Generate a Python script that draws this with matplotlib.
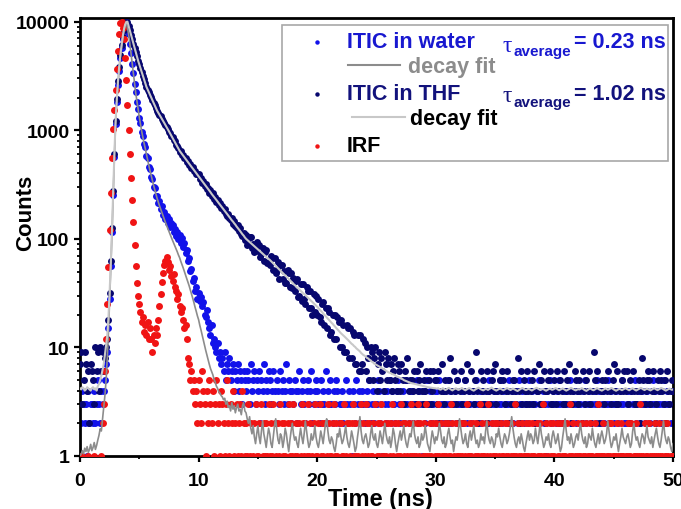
import numpy as np
import matplotlib
matplotlib.use('Agg')
import matplotlib.pyplot as plt
from matplotlib.patches import Rectangle
from matplotlib.lines import Line2D
from matplotlib.ticker import FixedLocator, MultipleLocator, LogLocator, NullFormatter

plt.rcParams['font.family'] = ['Liberation Sans', 'DejaVu Sans']

# --- data: photon counts per 0.1 ns channel, 0 .. 50 ns ---
time_ns = np.round(np.arange(501) * 0.1, 1)

water_counts = [
    3, 2, 4, 3, 2, 3, 1, 4, 2, 3, 3, 2, 4, 2, 3, 5, 3, 2, 4, 3,
    4, 5, 7, 9, 15, 28, 56, 115, 255, 570, 1140, 1820, 2610, 3540, 4620, 5730, 6980, 8260, 9350, 9480,
    8740, 7660, 6240, 5180, 4060, 3350, 2670, 2240, 1810, 1580, 1295, 1160, 955, 880, 742, 702, 585, 551, 462, 440,
    372, 358, 301, 296, 249, 246, 214, 221, 187, 199, 166, 178, 151, 163, 139, 152, 129, 140, 133, 116,
    124, 107, 116, 99, 108, 92, 101, 84, 91, 74, 79, 63, 66, 51, 53, 41, 44, 33, 36, 28,
    32, 27, 29, 24, 26, 20, 19, 22, 17, 15, 13, 16, 11, 12, 10, 9, 11, 8, 9, 7,
    8, 6, 9, 5, 7, 6, 8, 5, 6, 7, 4, 6, 5, 7, 4, 6, 5, 3, 6, 5,
    4, 6, 5, 3, 7, 4, 5, 6, 3, 5, 4, 6, 2, 5, 4, 7, 3, 5, 4, 6,
    5, 3, 4, 6, 4, 2, 5, 4, 3, 6, 4, 5, 3, 4, 7, 3, 5, 4, 2, 4,
    3, 5, 4, 2, 4, 6, 3, 4, 5, 3, 2, 4, 5, 3, 4, 6, 2, 3, 4, 5,
    4, 3, 2, 5, 3, 4, 3, 6, 2, 4, 3, 5, 3, 2, 4, 3, 5, 4, 2, 3,
    3, 4, 2, 3, 5, 3, 2, 4, 3, 1, 4, 3, 2, 5, 3, 4, 2, 3, 4, 3,
    2, 3, 4, 3, 5, 2, 3, 4, 2, 3, 3, 5, 4, 2, 3, 1, 4, 3, 2, 4,
    3, 5, 2, 4, 3, 3, 2, 4, 5, 3, 2, 3, 4, 2, 3, 5, 3, 2, 4, 3,
    4, 2, 3, 3, 5, 2, 4, 3, 1, 3, 4, 2, 3, 5, 3, 4, 2, 3, 3, 4,
    2, 4, 3, 5, 3, 2, 3, 4, 2, 3, 5, 3, 4, 2, 3, 3, 4, 2, 5, 3,
    3, 3, 4, 2, 3, 5, 2, 3, 4, 3, 2, 4, 3, 3, 5, 2, 3, 4, 2, 3,
    4, 3, 2, 3, 4, 5, 3, 2, 3, 4, 3, 2, 4, 3, 5, 3, 2, 4, 3, 3,
    2, 3, 5, 3, 4, 2, 3, 3, 4, 2, 5, 3, 3, 4, 2, 3, 4, 3, 2, 5,
    3, 4, 3, 2, 3, 4, 2, 5, 3, 3, 4, 2, 3, 1, 4, 3, 5, 2, 3, 4,
    3, 2, 4, 3, 5, 3, 2, 3, 4, 2, 3, 4, 3, 5, 2, 3, 4, 3, 2, 3,
    4, 3, 3, 2, 4, 3, 5, 2, 3, 4, 3, 2, 3, 4, 3, 2, 5, 3, 4, 2,
    3, 4, 2, 3, 3, 5, 3, 2, 4, 3, 2, 3, 4, 3, 2, 4, 3, 5, 3, 2,
    2, 3, 4, 3, 2, 4, 3, 3, 5, 2, 3, 4, 2, 3, 4, 3, 2, 3, 4, 3,
    3, 2, 3, 5, 3, 4, 2, 3, 3, 4, 2, 3, 5, 3, 2, 4, 3, 3, 2, 4,
    3,
]

thf_counts = [
    7, 9, 3, 5, 9, 7, 4, 6, 2, 7, 6, 5, 3, 10, 6, 9, 4, 10, 6, 9,
    6, 8, 10, 12, 18, 32, 62, 125, 275, 610, 1210, 1930, 2830, 3810, 4920, 6040, 7230, 8420, 9360, 9930,
    9980, 9120, 8350, 7560, 6910, 6280, 5760, 5230, 4790, 4380, 4030, 3720, 3440, 3190, 2950, 2720, 2520, 2370, 2240, 2120,
    2010, 1895, 1800, 1690, 1605, 1515, 1450, 1380, 1340, 1268, 1222, 1165, 1125, 1066, 1030, 970, 941, 888, 858, 806,
    790, 728, 716, 690, 631, 640, 592, 597, 551, 559, 515, 522, 481, 488, 447, 458, 420, 425, 395, 398,
    392, 355, 361, 328, 341, 306, 318, 285, 296, 266, 280, 249, 262, 233, 245, 219, 229, 204, 214, 192,
    199, 181, 187, 170, 162, 171, 154, 148, 156, 137, 146, 131, 126, 135, 117, 125, 110, 106, 113, 98,
    108, 87, 92, 103, 103, 82, 90, 75, 78, 93, 85, 87, 68, 72, 83, 62, 76, 79, 60, 61,
    58, 70, 66, 52, 67, 48, 52, 61, 43, 57, 58, 43, 51, 39, 39, 52, 48, 36, 48, 35,
    44, 33, 41, 43, 29, 30, 38, 27, 38, 28, 25, 36, 33, 23, 33, 23, 20, 31, 21, 30,
    20, 28, 19, 17, 25, 26, 16, 23, 15, 23, 21, 13, 14, 20, 12, 20, 12, 19, 17, 10,
    18, 10, 16, 9, 9, 16, 15, 8, 15, 8, 14, 13, 7, 7, 13, 6, 13, 6, 7, 12,
    11, 6, 10, 8, 5, 10, 9, 5, 8, 10, 4, 7, 9, 5, 8, 6, 4, 9, 7, 5,
    8, 5, 7, 4, 6, 8, 5, 4, 7, 6, 4, 7, 5, 3, 6, 5, 8, 4, 5, 3,
    5, 4, 6, 3, 6, 4, 5, 7, 4, 3, 5, 4, 6, 3, 5, 6, 3, 4, 6, 5,
    5, 3, 6, 2, 4, 7, 4, 3, 5, 4, 2, 5, 8, 4, 3, 6, 4, 3, 5, 2,
    4, 6, 3, 2, 4, 5, 7, 3, 4, 1, 6, 4, 3, 5, 9, 4, 2, 3, 6, 4,
    5, 3, 4, 6, 2, 4, 3, 5, 6, 4, 7, 3, 4, 2, 5, 4, 6, 5, 3, 4,
    6, 4, 2, 3, 4, 5, 5, 4, 3, 8, 4, 2, 6, 3, 5, 4, 3, 6, 4, 3,
    4, 5, 3, 6, 2, 4, 4, 7, 3, 5, 3, 6, 4, 2, 4, 5, 6, 3, 3, 4,
    5, 3, 6, 4, 2, 5, 4, 3, 6, 3, 4, 5, 7, 4, 2, 3, 4, 6, 5, 4,
    3, 5, 4, 2, 6, 4, 3, 5, 4, 6, 3, 2, 4, 9, 5, 4, 6, 3, 2, 4,
    5, 4, 3, 5, 4, 6, 2, 4, 3, 5, 7, 4, 3, 6, 3, 4, 1, 5, 4, 6,
    4, 6, 3, 2, 5, 4, 6, 4, 3, 3, 4, 5, 2, 4, 8, 5, 3, 4, 5, 6,
    5, 3, 4, 6, 4, 2, 3, 5, 4, 6, 5, 4, 3, 5, 2, 6, 4, 3, 4, 5,
    4,
]

irf_counts = [
    1, 0, 1, 0, 0, 0, 0, 1, 0, 0, 0, 0, 1, 0, 0, 0, 0, 0, 1, 2,
    3, 6, 12, 25, 55, 120, 265, 560, 1020, 1530, 2350, 3650, 5400, 7750, 9700, 9950, 8800, 6900, 4650, 2900,
    1700, 1000, 610, 365, 228, 142, 88, 56, 39, 30, 25, 21, 17, 19, 14, 16, 13, 17, 12, 15,
    12, 9, 13, 11, 15, 13, 18, 24, 31, 40, 48, 57, 63, 68, 61, 52, 56, 45, 41, 47,
    36, 33, 28, 31, 24, 21, 23, 18, 15, 16, 12, 8, 7, 5, 6, 4, 5, 3, 4, 2,
    5, 3, 2, 6, 4, 3, 1, 4, 2, 5, 3, 2, 4, 1, 3, 5, 2, 3, 1, 4,
    3, 2, 1, 3, 5, 2, 1, 3, 2, 4, 1, 2, 3, 1, 2, 3, 1, 4, 2, 1,
    2, 1, 3, 1, 2, 0, 1, 2, 3, 1, 1, 2, 0, 3, 1, 2, 1, 2, 1, 3,
    1, 2, 1, 3, 2, 1, 0, 2, 1, 3, 2, 1, 2, 1, 0, 2, 3, 1, 2, 1,
    3, 1, 2, 1, 0, 2, 1, 3, 2, 1, 2, 1, 3, 1, 2, 0, 1, 2, 3, 1,
    1, 2, 3, 1, 2, 1, 2, 0, 1, 3, 2, 1, 1, 2, 3, 1, 2, 1, 0, 2,
    2, 1, 1, 3, 1, 2, 0, 2, 1, 2, 3, 1, 2, 1, 1, 2, 0, 3, 1, 2,
    1, 3, 2, 1, 2, 1, 1, 2, 0, 3, 1, 2, 1, 2, 3, 1, 1, 2, 1, 0,
    2, 1, 2, 3, 1, 0, 2, 1, 2, 1, 1, 3, 2, 1, 2, 0, 1, 2, 1, 3,
    1, 2, 1, 1, 2, 3, 1, 2, 0, 1, 2, 1, 3, 1, 1, 2, 1, 0, 2, 1,
    2, 1, 3, 1, 2, 1, 0, 1, 2, 1, 2, 1, 1, 3, 2, 1, 0, 2, 1, 1,
    1, 2, 1, 0, 2, 1, 3, 1, 1, 2, 1, 2, 0, 1, 2, 1, 1, 3, 1, 2,
    1, 1, 2, 1, 3, 0, 1, 2, 1, 1, 2, 1, 2, 1, 0, 2, 1, 1, 2, 1,
    2, 1, 0, 1, 2, 1, 1, 3, 1, 2, 1, 0, 1, 2, 1, 1, 2, 1, 1, 2,
    1, 2, 1, 1, 0, 2, 1, 1, 2, 1, 3, 1, 1, 2, 0, 1, 2, 1, 1, 2,
    1, 0, 2, 1, 1, 2, 1, 2, 1, 1, 0, 2, 1, 3, 1, 1, 2, 1, 0, 1,
    2, 1, 1, 2, 1, 0, 1, 2, 1, 1, 2, 1, 1, 0, 2, 1, 1, 3, 1, 1,
    1, 2, 1, 0, 1, 1, 2, 1, 2, 1, 1, 0, 1, 2, 1, 1, 2, 1, 1, 0,
    1, 1, 2, 1, 1, 2, 0, 1, 1, 2, 1, 1, 3, 1, 0, 1, 2, 1, 1, 2,
    2, 1, 1, 0, 1, 2, 1, 1, 2, 1, 0, 1, 2, 1, 1, 2, 1, 0, 1, 1,
    1,
]

water_fit = [
    1.00, 1.04, 1.12, 1.05, 1.18, 1.10, 1.22, 1.08, 1.15, 1.28, 1.12, 1.20, 1.33, 1.15, 1.25, 1.40, 1.55, 1.78, 1.70, 2.20,
    2.9, 3.6, 5.0, 8.0, 14, 27, 55, 112, 252, 565, 1140, 1820, 2610, 3540, 4620, 5730, 6980, 8260, 9300, 9600,
    8800, 7600, 6300, 5100, 4100, 3300, 2700, 2200, 1850, 1550, 1320, 1130, 980, 860, 760, 680, 600, 535, 475, 425,
    385, 345, 312, 284, 258, 236, 218, 202, 188, 175, 163, 152, 142, 133, 125, 117, 110, 103, 97, 91,
    86, 81, 76, 71, 67, 62, 58, 54, 50, 46, 43, 40, 37, 34, 31, 28.5, 26, 23.5, 21.5, 19.5,
    18, 16, 14.5, 13, 11.7, 10.5, 9.4, 8.5, 7.7, 7.0, 6.4, 6.0, 5.6, 5.1, 4.8, 4.4, 4.2, 3.9, 3.8, 3.6,
    3.5, 3.3, 3.4, 3.0, 3.2, 2.8, 2.9, 2.6, 3.1, 2.7, 2.9, 2.5, 2.8, 3.0, 2.6, 2.7, 2.4, 2.9, 3.1, 2.6,
    2.5, 2.2, 2.0, 2.3, 1.8, 1.6, 1.9, 1.5, 1.3, 1.6, 1.9, 1.5, 1.3, 1.7, 2.1, 1.6, 1.4, 1.2, 1.5, 1.8,
    1.6, 1.3, 1.2, 1.5, 1.9, 2.2, 1.7, 1.4, 1.3, 1.6, 1.5, 1.2, 1.4, 1.8, 1.6, 1.3, 1.1, 1.4, 1.7, 2.0,
    1.6, 1.4, 1.5, 1.3, 1.2, 1.5, 1.8, 1.5, 1.3, 1.6, 2.1, 1.7, 1.4, 1.2, 1.3, 1.6, 1.4, 1.5, 1.9, 1.5,
    1.3, 1.2, 1.4, 1.7, 1.5, 1.3, 1.6, 2.0, 2.2, 1.7, 1.4, 1.3, 1.5, 1.4, 1.2, 1.1, 1.3, 1.6, 1.5, 1.8,
    1.5, 1.3, 1.4, 1.6, 1.9, 1.5, 1.3, 1.2, 1.4, 1.7, 1.5, 1.3, 1.1, 1.2, 1.5, 1.8, 2.3, 1.7, 1.4, 1.3,
    1.5, 1.6, 1.4, 1.2, 1.3, 1.6, 1.9, 1.5, 1.4, 1.6, 1.3, 1.2, 1.4, 1.7, 1.5, 1.3, 1.6, 2.0, 1.6, 1.4,
    1.3, 1.5, 1.2, 1.4, 1.8, 1.6, 1.3, 1.1, 1.3, 1.5, 1.7, 1.4, 1.6, 1.9, 1.5, 1.3, 1.2, 1.4, 1.6, 1.5,
    1.8, 2.1, 1.6, 1.4, 1.3, 1.5, 1.2, 1.3, 1.6, 1.4, 1.5, 1.9, 1.6, 1.3, 1.2, 1.1, 1.4, 1.7, 1.5, 1.3,
    1.5, 1.4, 1.6, 2.0, 1.7, 1.4, 1.3, 1.5, 1.2, 1.3, 1.6, 1.8, 1.5, 1.3, 1.4, 1.1, 1.3, 1.5, 1.4, 1.7,
    2.2, 1.8, 1.5, 1.3, 1.4, 1.6, 1.3, 1.2, 1.5, 1.7, 1.4, 1.6, 1.9, 1.5, 1.3, 1.4, 1.2, 1.3, 1.6, 1.4,
    1.5, 1.3, 1.7, 2.1, 1.6, 1.4, 1.3, 1.5, 1.4, 1.2, 1.3, 1.6, 1.5, 1.8, 1.5, 1.3, 1.2, 1.4, 1.6, 1.5,
    1.3, 1.4, 1.6, 1.9, 2.3, 1.8, 1.5, 1.3, 1.2, 1.4, 1.5, 1.3, 1.6, 1.4, 1.2, 1.1, 1.3, 1.5, 1.7, 1.4,
    1.6, 1.5, 1.3, 1.4, 1.8, 1.5, 1.3, 1.6, 2.0, 1.6, 1.4, 1.2, 1.3, 1.5, 1.4, 1.6, 1.3, 1.2, 1.5, 1.7,
    1.5, 1.3, 1.4, 1.6, 1.3, 1.1, 1.2, 1.5, 1.8, 2.2, 1.7, 1.4, 1.5, 1.3, 1.6, 1.4, 1.2, 1.3, 1.5, 1.6,
    1.4, 1.7, 2.0, 1.6, 1.4, 1.3, 1.5, 1.2, 1.3, 1.6, 1.5, 1.4, 1.8, 1.5, 1.3, 1.2, 1.4, 1.6, 1.3, 1.5,
    1.7, 1.5, 1.3, 1.4, 1.6, 2.1, 1.7, 1.4, 1.2, 1.3, 1.5, 1.4, 1.6, 1.3, 1.1, 1.3, 1.5, 1.8, 1.5, 1.4,
    1.3, 1.5, 1.6, 1.4, 1.2, 1.3, 1.7, 2.0, 1.6, 1.4, 1.5, 1.3, 1.2, 1.4, 1.6, 1.5, 1.3, 1.6, 1.9, 1.5,
    1.4, 1.3, 1.5, 1.2, 1.4, 1.6, 1.8, 1.5, 1.3, 1.2, 1.4, 1.7, 2.1, 1.6, 1.4, 1.3, 1.5, 1.4, 1.2, 1.1,
    1.3,
]

thf_fit = [
    4.2, 4.1, 4.3, 4.2, 4.0, 4.1, 4.3, 4.2, 4.1, 4.0, 4.2, 4.3, 4.1, 4.2, 4.0, 4.4, 4.6, 5.0, 5.5, 6.2,
    7.0, 8.5, 10.5, 13, 19, 33, 62, 125, 275, 610, 1210, 1930, 2830, 3810, 4920, 6040, 7230, 8420, 9360, 9930,
    10000, 9120, 8318, 7586, 6918, 6310, 5754, 5248, 4786, 4365, 4036, 3724, 3443, 3184, 2944, 2716, 2512, 2377, 2244, 2123,
    2005, 1897, 1791, 1694, 1600, 1514, 1449, 1390, 1330, 1274, 1219, 1169, 1119, 1072, 1023, 977, 933, 891, 851, 813,
    776, 741, 708, 676, 646, 624, 604, 583, 564, 546, 527, 509, 493, 476, 460, 446, 431, 416, 403, 389,
    377, 364, 352, 340, 329, 318, 308, 297, 287, 278, 269, 259, 251, 243, 235, 228, 220, 213, 206, 200,
    193, 187, 181, 175, 169, 164, 158.5, 153, 148, 144, 139, 135, 130, 126, 122, 118, 114, 110, 107, 103,
    100, 97.8, 95.6, 93.5, 91.4, 89.4, 87.4, 85.4, 83.5, 81.7, 79.9, 78.1, 76.4, 74.7, 73.0, 71.4, 69.8, 68.2, 66.7, 65.2,
    64, 62.4, 60.8, 59.3, 57.8, 56.4, 55.0, 53.6, 52.2, 50.9, 49.6, 48.4, 47.1, 45.9, 44.8, 43.7, 42.6, 41.5, 40.5, 39.4,
    38.4, 37.5, 36.6, 35.7, 34.9, 34.1, 33.3, 32.5, 31.7, 31.0, 30.2, 29.5, 28.8, 28.1, 27.4, 26.8, 26.1, 25.5, 24.9, 24.3,
    23.7, 23.0, 22.4, 21.8, 21.2, 20.6, 20.0, 19.5, 18.9, 18.4, 17.9, 17.4, 16.9, 16.5, 16.0, 15.6, 15.1, 14.7, 14.3, 13.9,
    13.5, 13.2, 12.9, 12.6, 12.3, 12.0, 11.7, 11.4, 11.1, 10.8, 10.6, 10.3, 10.1, 9.8, 9.6, 9.4, 9.2, 8.9, 8.7, 8.5,
    8.4, 8.2, 8.0, 7.9, 7.7, 7.6, 7.4, 7.3, 7.1, 7.0, 6.9, 6.8, 6.7, 6.6, 6.5, 6.4, 6.3, 6.2, 6.1, 6.0,
    5.9, 5.85, 5.8, 5.7, 5.65, 5.6, 5.5, 5.4, 5.35, 5.3, 5.2, 5.15, 5.1, 5.0, 4.95, 4.9, 4.85, 4.8, 4.75, 4.7,
    4.68, 4.65, 4.62, 4.59, 4.56, 4.53, 4.5, 4.47, 4.44, 4.41, 4.39, 4.36, 4.34, 4.31, 4.29, 4.27, 4.25, 4.24, 4.22, 4.21,
    4.20, 4.16, 4.22, 4.12, 4.08, 4.15, 4.21, 4.14, 4.05, 4.10, 4.18, 4.24, 4.16, 4.08, 4.02, 4.10, 4.15, 4.20, 4.12, 4.06,
    4.10, 4.17, 4.23, 4.15, 4.08, 4.03, 4.09, 4.16, 4.22, 4.18, 4.10, 4.04, 4.00, 4.07, 4.14, 4.20, 4.26, 4.18, 4.11, 4.06,
    4.02, 4.08, 4.15, 4.12, 4.06, 4.13, 4.21, 4.27, 4.19, 4.11, 4.05, 4.00, 4.06, 4.12, 4.18, 4.14, 4.08, 4.03, 4.09, 4.16,
    4.22, 4.17, 4.10, 4.05, 4.11, 4.18, 4.13, 4.07, 4.01, 3.97, 4.04, 4.11, 4.17, 4.23, 4.16, 4.09, 4.04, 4.10, 4.15, 4.12,
    4.06, 4.01, 4.08, 4.14, 4.20, 4.25, 4.18, 4.10, 4.05, 4.09, 4.15, 4.11, 4.04, 3.99, 4.05, 4.12, 4.18, 4.13, 4.07, 4.10,
    4.16, 4.22, 4.17, 4.09, 4.03, 4.08, 4.14, 4.19, 4.12, 4.06, 4.00, 4.05, 4.11, 4.17, 4.24, 4.18, 4.11, 4.06, 4.02, 4.08,
    4.13, 4.09, 4.15, 4.21, 4.16, 4.08, 4.02, 3.98, 4.05, 4.12, 4.18, 4.14, 4.07, 4.03, 4.09, 4.16, 4.22, 4.15, 4.09, 4.04,
    4.00, 4.06, 4.13, 4.19, 4.14, 4.07, 4.11, 4.17, 4.23, 4.18, 4.10, 4.04, 3.99, 4.05, 4.11, 4.15, 4.09, 4.04, 4.10, 4.16,
    4.21, 4.15, 4.08, 4.03, 4.09, 4.16, 4.20, 4.13, 4.06, 4.01, 4.07, 4.14, 4.19, 4.24, 4.17, 4.10, 4.05, 4.11, 4.17, 4.12,
    4.06, 4.02, 4.08, 4.15, 4.21, 4.16, 4.09, 4.04, 4.10, 4.17, 4.23, 4.18, 4.11, 4.05, 4.00, 4.06, 4.13, 4.18, 4.12, 4.07,
    4.10,
]

x_ticks = [0, 10, 20, 30, 40, 50]
y_ticks = [1, 10, 100, 1000, 10000]

C_WATER = '#1212ea'
C_THF = '#07076e'
C_IRF = '#f01414'
T_WATER = '#1818d0'
T_THF = '#12127c'


def as_counts(values):
    a = np.array(values, dtype=float)
    a[a <= 0] = np.nan  # empty channels are not shown on the log axis
    return a


fig = plt.figure(figsize=(6.81, 5.10), dpi=100)
W, H = 681.0, 510.0
ax = fig.add_axes([80 / W, 53 / H, 593 / W, 438 / H])

ax.plot(time_ns, as_counts(water_counts), 'o', ms=5.0, mew=0, color=C_WATER, zorder=2)
ax.plot(time_ns, as_counts(thf_counts), 'o', ms=5.0, mew=0, color=C_THF, zorder=3)
ax.plot(time_ns, as_counts(irf_counts), 'o', ms=5.0, mew=0, color=C_IRF, zorder=4)
ax.plot(time_ns, water_fit, '-', color='#8c8c8c', lw=1.2, zorder=5)
ax.plot(time_ns, thf_fit, '-', color='#c8c8c8', lw=1.5, zorder=5)

ax.set_yscale('log')
ax.set_xlim(0, 50)
ax.set_ylim(1, 10800)

ax.yaxis.set_major_locator(FixedLocator(y_ticks))
ax.set_yticklabels([str(v) for v in y_ticks])
ax.yaxis.set_minor_locator(LogLocator(base=10, subs=np.arange(2, 10)))
ax.yaxis.set_minor_formatter(NullFormatter())
ax.set_xticks(x_ticks)
ax.set_xticklabels([str(v) for v in x_ticks])
ax.xaxis.set_minor_locator(MultipleLocator(5))

ax.tick_params(which='major', direction='out', length=4.5, width=1.6, labelsize=14)
ax.tick_params(axis='y', which='major', pad=3)
ax.tick_params(axis='x', which='major', pad=7)
ax.tick_params(which='minor', direction='out', length=2.5, width=1.3)
for lab in ax.get_xticklabels() + ax.get_yticklabels():
    lab.set_fontweight('bold')
for s in ax.spines.values():
    s.set_linewidth(2)
    s.set_color('black')

# axis titles
fig.text(26 / W, 1 - 213 / H, 'Counts', rotation=90, ha='center', va='center',
         fontsize=16, fontweight='bold')
fig.text(380 / W, 1 - 500 / H, 'Time (ns)', ha='center', va='center',
         fontsize=17, fontweight='bold')


# --- legend box drawn by hand (pixel positions) ---
def fx(px):
    return px / W


def fy(py):
    return 1 - py / H


fig.add_artist(Rectangle((fx(282), fy(162)), fx(668) - fx(282), fy(26) - fy(162),
                         transform=fig.transFigure, facecolor='white',
                         edgecolor='#a8a8a8', lw=1.2, zorder=10))

for py, col in [(43, C_WATER), (95, C_THF), (147, C_IRF)]:
    fig.add_artist(Line2D([fx(317)], [fy(py)], marker='o', ms=3.2, mew=0, color=col,
                          transform=fig.transFigure, zorder=11))

fig.add_artist(Line2D([fx(348), fx(400)], [fy(66), fy(66)], color='#8c8c8c', lw=1.5,
                      transform=fig.transFigure, zorder=11))
fig.add_artist(Line2D([fx(352), fx(405)], [fy(118), fy(118)], color='#c8c8c8', lw=1.5,
                      transform=fig.transFigure, zorder=11))

lkw = dict(fontsize=15.5, fontweight='bold', va='center', ha='left', zorder=12)
fig.text(fx(347), fy(43), 'ITIC in water', color=T_WATER, **lkw)
fig.text(fx(408), fy(68), 'decay fit', color='#8c8c8c', **lkw)
fig.text(fx(347), fy(95), 'ITIC in THF', color=T_THF, **lkw)
fig.text(fx(410), fy(119), 'decay fit', color='black', **lkw)
fig.text(fx(347), fy(147), 'IRF', color='black', **lkw)

for py, col, val in [(43, T_WATER, '= 0.23 ns'), (94, T_THF, '= 1.02 ns')]:
    fig.text(fx(503), fy(py + 3), '\u03c4', color=col, fontsize=17, va='center', ha='left',
             family=['Liberation Serif', 'DejaVu Serif'], zorder=12)
    fig.text(fx(513), fy(py + 9), 'average', color=col, fontsize=11, fontweight='bold',
             va='center', ha='left', zorder=12)
    fig.text(fx(574), fy(py), val, color=col, **lkw)

fig.savefig('out.png', dpi=100)
